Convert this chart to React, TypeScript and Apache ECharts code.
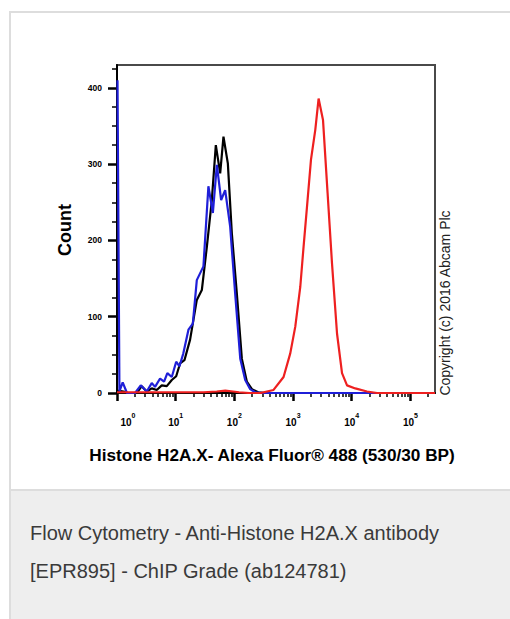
import React, { useEffect, useRef } from "react";
import * as echarts from "echarts";

// ---- axis definitions ----
const X_MAX = 262144;
const Y_MAX = 430;
const xTickExponents = [0, 1, 2, 3, 4, 5];
const xMinorTickValues = [
  2, 3, 4, 5, 6, 7, 8, 9,
  20, 30, 40, 50, 60, 70, 80, 90,
  200, 300, 400, 500, 600, 700, 800, 900,
  2000, 3000, 4000, 5000, 6000, 7000, 8000, 9000,
  20000, 30000, 40000, 50000, 60000, 70000, 80000, 90000,
  200000,
];
const yTickValues = [0, 100, 200, 300, 400];
const yMinorTickValues = [25, 50, 75, 125, 150, 175, 225, 250, 275, 325, 350, 375, 425];

// ---- series data (fluorescence, count) ----
const blackX = [1, 1.3, 1.5, 2.17, 2.64, 3.21, 3.91, 4.76, 5.79, 7.05, 8.58, 10.2, 11.9, 14.1, 17.6, 22.9, 27.9, 34.0, 41.3, 48.3, 57.3, 65.2, 77.4, 90.6, 110, 134, 163, 199, 255, 336, 262144];
const blackCount = [3, 2, 0, 0, 9, 2, 6, 4, 10, 9, 17, 22, 39, 43, 70, 122, 135, 192, 253, 325, 288, 336, 301, 209, 131, 45, 15, 5, 1, 0, 0];

const blueX = [1.02, 1.1, 1.25, 1.48, 2.03, 2.54, 3.21, 3.91, 4.45, 5.42, 6.34, 7.21, 8.58, 10.2, 11.6, 13.5, 16.5, 19.6, 22.9, 29.7, 36.1, 43.0, 50.3, 59.5, 69.7, 84.8, 103, 126, 153, 186, 226, 310, 262144];
const blueCount = [410, 2, 14, 0, 0, 10, 2, 13, 8, 19, 15, 26, 21, 41, 35, 52, 83, 91, 148, 166, 271, 236, 299, 253, 266, 218, 131, 45, 17, 5, 1, 0, 0];

const redX = [1, 10, 30, 50, 70, 95, 120, 180, 276, 465, 689, 896, 1091, 1327, 1511, 1727, 2020, 2392, 2723, 3237, 3876, 4608, 5610, 6826, 8310, 11500, 18200, 27000, 262144];
const redCount = [1, 1, 1, 2, 3, 2, 1, 0, 0, 4, 21, 52, 87, 139, 192, 244, 306, 345, 386, 358, 262, 170, 78, 26, 10, 6, 2, 0, 0];

// ---- texts ----
const yAxisTitle = "Count";
const xAxisTitle = "Histone H2A.X- Alexa Fluor® 488 (530/30 BP)";
const copyrightText = "Copyright (c) 2016 Abcam Plc";
const captionLines = [
  "Flow Cytometry - Anti-Histone H2A.X antibody",
  "[EPR895] - ChIP Grade (ab124781)",
];

const FONT = "'Liberation Sans', Arial, Helvetica, sans-serif";

function toPairs(xs: number[], ys: number[]) {
  return xs.map((x, i) => [Math.log10(x), ys[i]]);
}

export default function App() {
  const ref = useRef<HTMLDivElement>(null);

  useEffect(() => {
    if (!ref.current) return;
    const chart = echarts.init(ref.current, undefined, { renderer: "svg" });
    const xMaxLog = Math.log10(X_MAX);

    const lineSeries = (name: string, xs: number[], ys: number[], color: string, z: number) => ({
      name,
      type: "line",
      xAxisIndex: 0,
      yAxisIndex: 0,
      data: toPairs(xs, ys),
      symbol: "none",
      showSymbol: false,
      smooth: false,
      lineStyle: { color, width: 2.2 },
      itemStyle: { color },
      z,
    });

    const option: any = {
      animation: false,
      backgroundColor: "#ffffff",
      grid: {
        left: 117,
        top: 65,
        right: 75,
        bottom: 226,
        show: true,
        borderColor: "#4a4a4a",
        borderWidth: 2,
        backgroundColor: "transparent",
      },
      xAxis: [
        {
          type: "value",
          min: 0,
          max: xMaxLog,
          position: "bottom",
          axisLine: { show: true, onZero: false, lineStyle: { color: "#000", width: 2 } },
          axisTick: { show: true, customValues: xTickExponents, length: 8, lineStyle: { color: "#000", width: 2.5 } },
          axisLabel: {
            show: true,
            customValues: xTickExponents,
            margin: 24,
            formatter: (v: number) => {
              const n = Math.round(v);
              return n === 0 ? `{f|10}{s|${n}}` : `{b|10}{s|${n}}`;
            },
            rich: {
              b: { fontSize: 10, fontWeight: "bold", fontFamily: FONT, color: "#000", lineHeight: 10, verticalAlign: "bottom" },
              f: { fontSize: 10, fontWeight: "bold", fontFamily: FONT, color: "#000", lineHeight: 10, verticalAlign: "bottom", padding: [0, 0, 0, 22] },
              s: { fontSize: 7, fontWeight: "bold", fontFamily: FONT, color: "#000", lineHeight: 7, verticalAlign: "bottom", padding: [0, 0, 8, 0] },
            },
          },
          splitLine: { show: false },
        },
        {
          type: "value",
          min: 0,
          max: xMaxLog,
          position: "bottom",
          axisLine: { show: false, onZero: false },
          axisTick: { show: true, customValues: xMinorTickValues.map((v) => Math.log10(v)), length: 4, lineStyle: { color: "#000", width: 1.5 } },
          axisLabel: { show: false },
          splitLine: { show: false },
        },
      ],
      yAxis: [
        {
          type: "value",
          min: 0,
          max: Y_MAX,
          position: "left",
          axisLine: { show: true, onZero: false, lineStyle: { color: "#000", width: 2 } },
          axisTick: { show: true, customValues: yTickValues, length: 9, lineStyle: { color: "#000", width: 2.5 } },
          axisLabel: {
            show: true,
            customValues: yTickValues,
            margin: 15,
            fontSize: 8.5,
            fontWeight: "bold",
            fontFamily: FONT,
            color: "#000",
          },
          splitLine: { show: false },
        },
        {
          type: "value",
          min: 0,
          max: Y_MAX,
          position: "left",
          axisLine: { show: false, onZero: false },
          axisTick: { show: true, customValues: yMinorTickValues, length: 5, lineStyle: { color: "#000", width: 1.5 } },
          axisLabel: { show: false },
          splitLine: { show: false },
        },
      ],
      series: [
        lineSeries("Control", blackX, blackCount, "#000000", 2),
        lineSeries("Control 2", blueX, blueCount, "#1f1fd8", 3),
        lineSeries("Histone H2A.X", redX, redCount, "#ee2020", 4),
      ],
      graphic: [
        { type: "rect", shape: { x: 10, y: 490, width: 500, height: 129 }, style: { fill: "#eeeeee" }, z: 0 },
        { type: "line", shape: { x1: 10, y1: 12, x2: 510, y2: 12 }, style: { stroke: "#dddddd", lineWidth: 2 } },
        { type: "line", shape: { x1: 10, y1: 11, x2: 10, y2: 619 }, style: { stroke: "#dddddd", lineWidth: 2 } },
        { type: "line", shape: { x1: 10, y1: 490, x2: 510, y2: 490 }, style: { stroke: "#dddddd", lineWidth: 2 } },
        {
          type: "text",
          x: 65,
          y: 230,
          rotation: Math.PI / 2,
          style: { text: yAxisTitle, fontSize: 18, fontWeight: "bold", fontFamily: FONT, fill: "#000", textAlign: "center", textVerticalAlign: "middle" },
        },
        {
          type: "text",
          x: 272,
          y: 455,
          style: { text: xAxisTitle, fontSize: 17.2, fontWeight: "bold", fontFamily: FONT, fill: "#000", textAlign: "center", textVerticalAlign: "middle" },
        },
        {
          type: "text",
          x: 445,
          y: 303,
          rotation: Math.PI / 2,
          style: { text: copyrightText, fontSize: 14, fontFamily: FONT, fill: "#222", textAlign: "center", textVerticalAlign: "middle" },
        },
        ...captionLines.map((t, i) => ({
          type: "text",
          x: 30,
          y: 533 + i * 38,
          style: { text: t, fontSize: 20, fontFamily: FONT, fill: "#3a3a3a", textAlign: "left", textVerticalAlign: "middle" },
        })),
      ],
    };

    chart.setOption(option);
    return () => chart.dispose();
  }, []);

  return <div ref={ref} style={{ position: "absolute", left: 0, top: 0, width: 510, height: 619 }} />;
}
